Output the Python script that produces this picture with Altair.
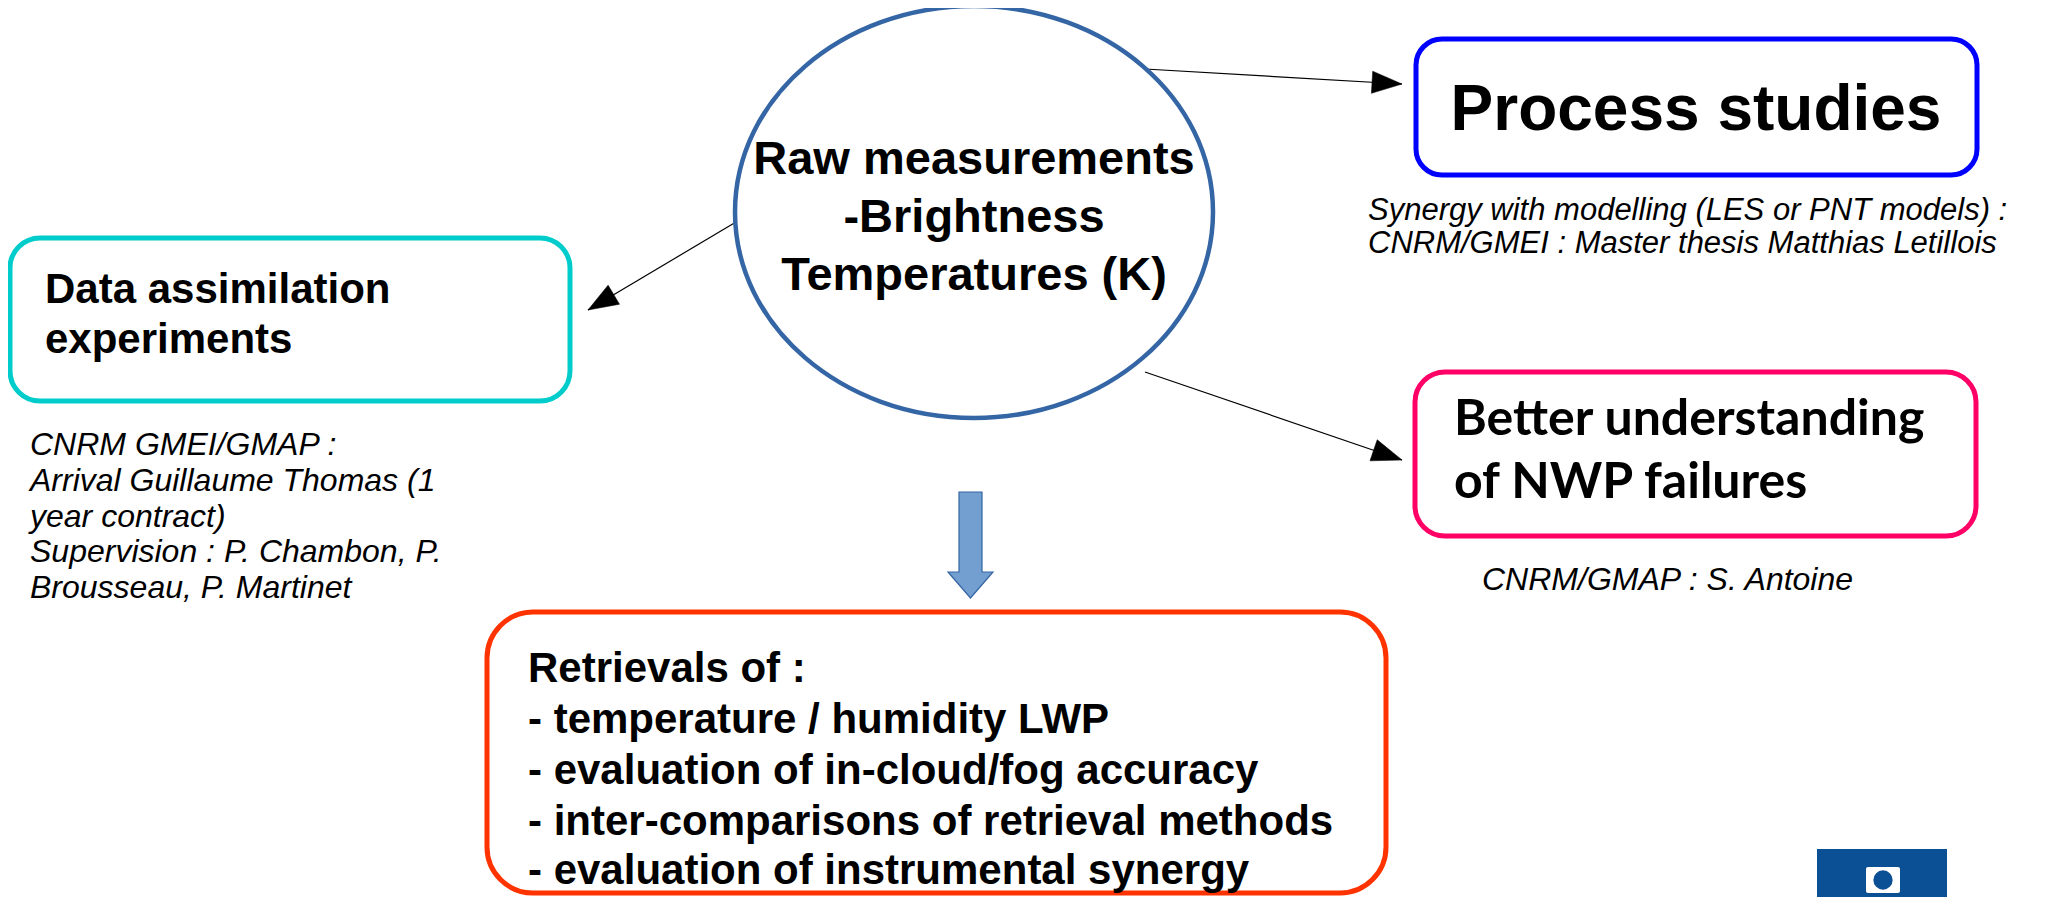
import math
import altair as alt
import pandas as pd

# ---------------- canvas ----------------
W, H = 2033, 889
OX, OY = 8, 8

# ---------------- data ----------------
# rounded boxes (stroke-centre coordinates, in reference pixels)
box_names = ["process", "assim", "nwp", "retrieval"]
box_x0 = [1416, 10, 1415, 487]
box_x1 = [1977, 570, 1976, 1386]
box_y0 = [39, 238, 372, 612]
box_y1 = [175, 401, 536, 893]
box_colors = ["#0000ff", "#00cccc", "#ff0066", "#ff3300"]
box_radius = [26, 30, 30, 46]

# central ellipse
ell_cx, ell_cy, ell_rx, ell_ry = 974, 212, 239, 206
ell_lines = ["Raw measurements", "-Brightness", "Temperatures (K)"]
ell_line_y = [174, 232, 290]

# box titles
process_lines = ["Process studies"]
process_y = [130]
assim_lines = ["Data assimilation", "experiments"]
assim_y = [303, 353]
nwp_lines = ["Better understanding", "of NWP failures"]
nwp_y = [435, 498]
retr_lines = [
    "Retrievals of :",
    "- temperature / humidity LWP",
    "- evaluation of in-cloud/fog accuracy",
    "- inter-comparisons of retrieval methods",
    "- evaluation of instrumental synergy",
]
retr_y = [682, 733, 784, 835, 884]

# italic captions
cap_process = ["Synergy with modelling (LES or PNT models) :",
               "CNRM/GMEI : Master thesis Matthias Letillois"]
cap_process_y = [220, 253]
cap_assim = ["CNRM GMEI/GMAP :",
             "Arrival Guillaume Thomas (1",
             "year contract)",
             "Supervision : P. Chambon, P.",
             "Brousseau, P. Martinet"]
cap_assim_y = [455, 491, 527, 562, 598]
cap_nwp = ["CNRM/GMAP : S. Antoine"]
cap_nwp_y = [590]

# thin connector arrows (start -> tip)
arrow_x0 = [1145, 736, 1145]
arrow_y0 = [69, 222, 372]
arrow_x1 = [1402, 588, 1402]
arrow_y1 = [84, 310, 460]

# block arrow (down)
block_cx, block_cy = 970.5, 545

# logo
logo_x0, logo_x1, logo_y0, logo_y1 = 1817, 1947, 849, 960

# ---------------- scales ----------------
xs = alt.Scale(domain=[OX, OX + W], nice=False, zero=False)
ys = alt.Scale(domain=[OY, OY + H], nice=False, zero=False, reverse=True)


def X(f="x"):
    return alt.X(f"{f}:Q", scale=xs, axis=None)


def Y(f="y"):
    return alt.Y(f"{f}:Q", scale=ys, axis=None)


# ---------------- layers ----------------
boxes = pd.DataFrame({"name": box_names, "x": box_x0, "x2": box_x1,
                      "y": box_y0, "y2": box_y1, "c": box_colors,
                      "r": box_radius})

box_layers = []
for rad in sorted(set(box_radius)):
    sub = boxes[boxes["r"] == rad]
    box_layers.append(
        alt.Chart(sub).mark_rect(cornerRadius=rad, fill="white",
                                 strokeWidth=5).encode(
            x=X("x"), x2="x2", y=Y("y"), y2="y2",
            stroke=alt.Stroke("c:N", scale=None))
    )

# connectors
arr = pd.DataFrame({"x": arrow_x0, "y": arrow_y0, "x2": arrow_x1, "y2": arrow_y1})
arr["angle"] = [(math.degrees(math.atan2(b - a, d - c))) % 360
                for a, b, c, d in zip(arrow_y0, arrow_y1, arrow_x0, arrow_x1)]
rules = alt.Chart(arr).mark_rule(color="black", strokeWidth=1.2).encode(
    x=X("x"), y=Y("y"), x2="x2", y2="y2")
heads = alt.Chart(arr).mark_point(
    shape="M 0 0 L -1 -0.37 L -1 0.37 Z", size=3600, filled=True,
    fill="black", stroke="black", strokeWidth=0.5, opacity=1).encode(
    x=X("x2"), y=Y("y2"), angle=alt.Angle("angle:Q", scale=None))

# ellipse (scaled custom symbol)
k = 0.5523
ry = ell_ry / ell_rx
ell_path = (f"M -1 0 C -1 {-k*ry:.4f} {-k:.4f} {-ry:.4f} 0 {-ry:.4f} "
            f"C {k:.4f} {-ry:.4f} 1 {-k*ry:.4f} 1 0 "
            f"C 1 {k*ry:.4f} {k:.4f} {ry:.4f} 0 {ry:.4f} "
            f"C {-k:.4f} {ry:.4f} -1 {k*ry:.4f} -1 0 Z")
ell = alt.Chart(pd.DataFrame({"x": [ell_cx], "y": [ell_cy]})).mark_point(
    shape=ell_path, size=(2 * ell_rx) ** 2, fill="white", filled=False,
    stroke="#3465a4", strokeWidth=4.5, opacity=1, fillOpacity=1).encode(
    x=X(), y=Y())

# block arrow
hh = 53.0
shaft = 11.5 / hh
head = 22.5 / hh
hb = (572 - block_cy) / hh
blk_path = (f"M {-shaft:.4f} -1 L {shaft:.4f} -1 L {shaft:.4f} {hb:.4f} "
            f"L {head:.4f} {hb:.4f} L 0 1 L {-head:.4f} {hb:.4f} "
            f"L {-shaft:.4f} {hb:.4f} Z")
blk = alt.Chart(pd.DataFrame({"x": [block_cx], "y": [block_cy]})).mark_point(
    shape=blk_path, size=(2 * hh) ** 2, fill="#729fcf", filled=True,
    stroke="#3465a4", strokeWidth=1.2, opacity=1).encode(x=X(), y=Y())


def text_layer(lines, ys_, x, align, font, size, weight="bold", style="normal",
               color="black"):
    df = pd.DataFrame({"t": lines, "x": [x] * len(lines), "y": ys_})
    return alt.Chart(df).mark_text(
        align=align, baseline="alphabetic", font=font, fontSize=size,
        fontWeight=weight, fontStyle=style, color=color).encode(
        x=X(), y=Y(), text="t:N")


SANS = "Liberation Sans, Arial, sans-serif"
texts = [
    text_layer(ell_lines, ell_line_y, ell_cx, "center", SANS, 47),
    text_layer(process_lines, process_y, 1696, "center", SANS, 64),
    text_layer(assim_lines, assim_y, 45, "left", SANS, 42),
    text_layer(nwp_lines, nwp_y, 1454, "left", "Lato, Carlito, sans-serif", 50),
    text_layer(retr_lines, retr_y, 528, "left", SANS, 42),
    text_layer(cap_process, cap_process_y, 1368, "left", SANS, 31,
               weight="normal", style="italic"),
    text_layer(cap_assim, cap_assim_y, 30, "left", SANS, 32,
               weight="normal", style="italic"),
    text_layer(cap_nwp, cap_nwp_y, 1482, "left", SANS, 32,
               weight="normal", style="italic"),
]

# logo
logo = alt.Chart(pd.DataFrame({"x": [logo_x0], "x2": [logo_x1],
                               "y": [logo_y0], "y2": [logo_y1]})).mark_rect(
    fill="#0b4f94").encode(x=X("x"), x2="x2", y=Y("y"), y2="y2")
logo_icon = alt.Chart(pd.DataFrame({"x": [1866], "x2": [1900],
                                    "y": [867], "y2": [893]})).mark_rect(
    fill="white", cornerRadius=2).encode(x=X("x"), x2="x2", y=Y("y"), y2="y2")
logo_dot = alt.Chart(pd.DataFrame({"x": [1883], "y": [880]})).mark_point(
    shape="circle", size=300, filled=True, fill="#0b4f94", opacity=1,
    stroke="#0b4f94").encode(x=X(), y=Y())
logo_txt = text_layer(["METEO"], [922], 1882, "center", SANS, 22, color="white")

chart = alt.layer(
    *box_layers, rules, heads, ell, blk, *texts, logo, logo_icon, logo_dot, logo_txt
).properties(
    width=W, height=H, padding=0,
    autosize=alt.AutoSizeParams(type="none"),
    background="white",
).configure_view(stroke=None)

chart.save("out.html", embed_options={"renderer": "svg", "actions": False})
